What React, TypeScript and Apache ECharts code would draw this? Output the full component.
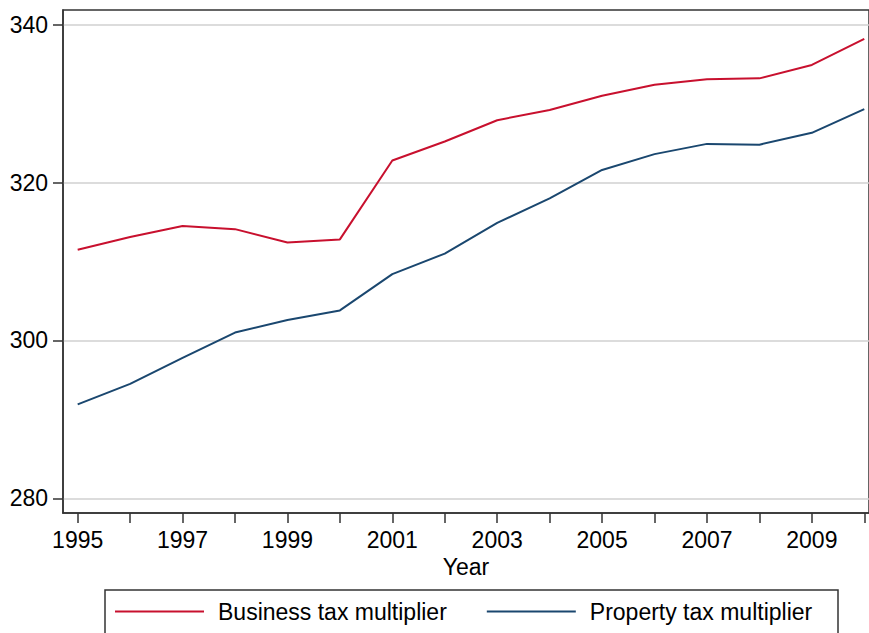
import React, { useEffect, useRef } from "react";
import * as echarts from "echarts";

const years = [1995, 1996, 1997, 1998, 1999, 2000, 2001, 2002, 2003, 2004, 2005, 2006, 2007, 2008, 2009, 2010];
const businessTax = [311.5, 313.1, 314.5, 314.1, 312.4, 312.8, 322.8, 325.2, 327.9, 329.2, 331.0, 332.4, 333.1, 333.2, 334.9, 338.2];
const propertyTax = [291.9, 294.5, 297.8, 301.0, 302.6, 303.8, 308.4, 311.0, 314.9, 318.0, 321.6, 323.6, 324.9, 324.8, 326.3, 329.3];
const xTickValues = years;
const xLabelValues = [1995, 1997, 1999, 2001, 2003, 2005, 2007, 2009];
const yTickValues = [280, 300, 320, 340];
const seriesNames = ["Business tax multiplier", "Property tax multiplier"];
const colors = ["#c8102e", "#1a476f"];

const FONT = "'Liberation Sans', Arial, sans-serif";
const FS = 23;

export default function App() {
  const ref = useRef<HTMLDivElement>(null);
  useEffect(() => {
    if (!ref.current) return;
    const chart = echarts.init(ref.current, null, { renderer: "svg" });
    chart.setOption({
      animation: false,
      backgroundColor: "#ffffff",
      grid: {
        left: 63,
        top: 10,
        width: 807,
        height: 503,
        show: true,
        borderColor: "#333333",
        borderWidth: 1.5,
        containLabel: false,
      },
      xAxis: {
        type: "value",
        min: 1994.72,
        max: 2010.09,
        name: "Year",
        nameLocation: "middle",
        nameGap: 40,
        nameTextStyle: { fontFamily: FONT, fontSize: FS, color: "#000" },
        axisLine: { show: true, onZero: false, lineStyle: { color: "#333333", width: 1.5 } },
        axisTick: { show: true, length: 10, lineStyle: { color: "#333333", width: 1.5 }, customValues: xTickValues },
        axisLabel: {
          fontFamily: FONT,
          fontSize: FS,
          color: "#000",
          margin: 15,
          customValues: xLabelValues,
          formatter: (v: number) => String(Math.round(v)),
        },
        splitLine: { show: false },
      },
      yAxis: {
        type: "value",
        min: 278.14,
        max: 341.86,
        axisLine: { show: true, onZero: false, lineStyle: { color: "#333333", width: 1.5 } },
        axisTick: { show: true, length: 10, lineStyle: { color: "#333333", width: 1.5 }, customValues: yTickValues },
        axisLabel: {
          fontFamily: FONT,
          fontSize: FS,
          color: "#000",
          margin: 15,
          customValues: yTickValues,
          formatter: (v: number) => String(Math.round(v)),
        },
        splitLine: { show: true, lineStyle: { color: "#d0d0d0", width: 1.5 } },
      },
      legend: {
        left: 115,
        top: 600,
        padding: 0,
        itemWidth: 89,
        itemHeight: 14,
        itemGap: 40,
        icon: "path://M0,6 L89,6 L89,8 L0,8 Z",
        textStyle: { fontFamily: FONT, fontSize: FS, color: "#000", padding: [0, 0, 0, 9] },
        data: seriesNames,
      },
      graphic: [
        {
          type: "rect",
          shape: { x: 105, y: 590, width: 733, height: 60 },
          style: { fill: "none", stroke: "#333333", lineWidth: 1.5 },
          silent: true,
        },
      ],
      series: [
        {
          name: seriesNames[0],
          type: "line",
          symbol: "none",
          data: years.map((y, i) => [y, businessTax[i]]),
          lineStyle: { color: colors[0], width: 2 },
          itemStyle: { color: colors[0] },
        },
        {
          name: seriesNames[1],
          type: "line",
          symbol: "none",
          data: years.map((y, i) => [y, propertyTax[i]]),
          lineStyle: { color: colors[1], width: 2 },
          itemStyle: { color: colors[1] },
        },
      ],
    });
    return () => chart.dispose();
  }, []);
  return <div ref={ref} style={{ width: 869, height: 633, position: "absolute", left: 0, top: 0 }} />;
}
